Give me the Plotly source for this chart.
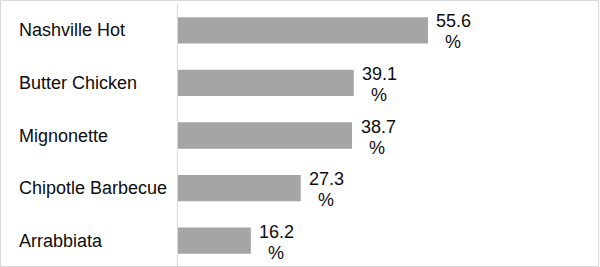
import plotly.graph_objects as go

categories = ["Nashville Hot", "Butter Chicken", "Mignonette", "Chipotle Barbecue", "Arrabbiata"]
values = [55.6, 39.1, 38.7, 27.3, 16.2]
number_labels = ["55.6", "39.1", "38.7", "27.3", "16.2"]
unit_label = "%"

W, H = 600, 267
ML, MR, MT, MB = 178, 2, 4, 0
PW, PH = W - ML - MR, H - MT - MB
FONT = "Liberation Sans, Arial, sans-serif"
TXT = "#0d0d0d"

fig = go.Figure(go.Bar(
    x=values, y=categories, orientation="h",
    marker=dict(color="#a5a5a5", line=dict(width=0)),
    hoverinfo="skip",
))

annotations = []
for c in categories:
    annotations.append(dict(
        x=-(ML - 17) / PW, xref="paper", y=c, yref="y",
        text=c, showarrow=False, xanchor="left", yanchor="middle",
        font=dict(family=FONT, size=18, color=TXT),
    ))
for v, c, t in zip(values, categories, number_labels):
    annotations.append(dict(
        x=v, xref="x", y=c, yref="y", text=t, showarrow=False,
        xanchor="center", yanchor="middle", xshift=26, yshift=9,
        font=dict(family=FONT, size=18, color=TXT),
    ))
    annotations.append(dict(
        x=v, xref="x", y=c, yref="y", text=unit_label, showarrow=False,
        xanchor="center", yanchor="middle", xshift=25, yshift=-12,
        font=dict(family=FONT, size=18, color=TXT),
    ))

fig.update_layout(
    width=W, height=H,
    margin=dict(l=ML, r=MR, t=MT, b=MB, pad=0),
    paper_bgcolor="white", plot_bgcolor="white",
    showlegend=False, bargap=0.5,
    xaxis=dict(range=[0, PW / 4.496], visible=False, fixedrange=True),
    yaxis=dict(autorange="reversed", showticklabels=False, ticks="",
               showline=True, linecolor="#d9d9d9", linewidth=1,
               showgrid=False, zeroline=False),
    annotations=annotations,
    shapes=[dict(
        type="rect", xref="paper", yref="paper",
        x0=-(ML - 0.5) / PW, x1=1 + (MR - 1.5) / PW,
        y0=-(MB - 0.5) / PH, y1=1 + (MT - 0.5) / PH,
        line=dict(color="#d9d9d9", width=1), layer="above",
    )],
)

fig.write_html("out.html", config={"displayModeBar": False})
